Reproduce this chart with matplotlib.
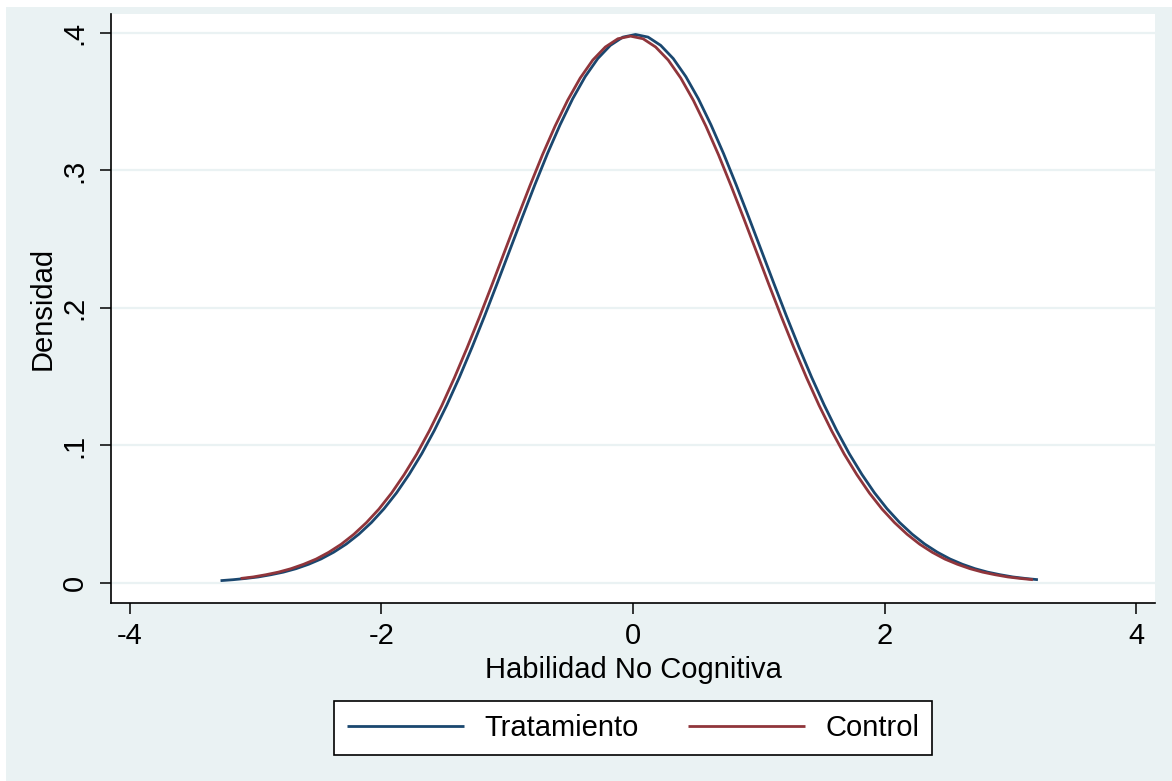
import matplotlib
matplotlib.use("Agg")
import matplotlib.pyplot as plt
from matplotlib.patches import Rectangle

plt.rcParams['font.family'] = ['Liberation Sans', 'DejaVu Sans']

# Kernel density estimates of the non-cognitive ability index
x_tratamiento = [-3.28, -3.18, -3.08, -2.98, -2.88, -2.78, -2.68, -2.58, -2.48, -2.38,
                 -2.28, -2.18, -2.08, -1.98, -1.88, -1.78, -1.68, -1.58, -1.48, -1.38,
                 -1.28, -1.18, -1.08, -0.98, -0.88, -0.78, -0.68, -0.58, -0.48, -0.38,
                 -0.28, -0.18, -0.08, 0.02, 0.12, 0.22, 0.32, 0.42, 0.52, 0.62,
                 0.72, 0.82, 0.92, 1.02, 1.12, 1.22, 1.32, 1.42, 1.52, 1.62,
                 1.72, 1.82, 1.92, 2.02, 2.12, 2.22, 2.32, 2.42, 2.52, 2.62,
                 2.72, 2.82, 2.92, 3.02, 3.12, 3.22]
y_tratamiento = [0.0017, 0.0024, 0.0033, 0.0044, 0.0060, 0.0079, 0.0104, 0.0136, 0.0175, 0.0224,
                 0.0283, 0.0355, 0.0440, 0.0540, 0.0656, 0.0790, 0.0940, 0.1109, 0.1295, 0.1497,
                 0.1714, 0.1942, 0.2179, 0.2420, 0.2661, 0.2897, 0.3123, 0.3332, 0.3521, 0.3683,
                 0.3814, 0.3910, 0.3970, 0.3989, 0.3970, 0.3910, 0.3814, 0.3683, 0.3521, 0.3332,
                 0.3123, 0.2897, 0.2661, 0.2420, 0.2179, 0.1942, 0.1714, 0.1497, 0.1295, 0.1109,
                 0.0940, 0.0790, 0.0656, 0.0540, 0.0440, 0.0355, 0.0283, 0.0224, 0.0175, 0.0136,
                 0.0104, 0.0079, 0.0060, 0.0044, 0.0033, 0.0024]

x_control = [-3.12, -3.02, -2.92, -2.82, -2.72, -2.62, -2.52, -2.42, -2.32, -2.22,
             -2.12, -2.02, -1.92, -1.82, -1.72, -1.62, -1.52, -1.42, -1.32, -1.22,
             -1.12, -1.02, -0.92, -0.82, -0.72, -0.62, -0.52, -0.42, -0.32, -0.22,
             -0.12, -0.02, 0.08, 0.18, 0.28, 0.38, 0.48, 0.58, 0.68, 0.78,
             0.88, 0.98, 1.08, 1.18, 1.28, 1.38, 1.48, 1.58, 1.68, 1.78,
             1.88, 1.98, 2.08, 2.18, 2.28, 2.38, 2.48, 2.58, 2.68, 2.78,
             2.88, 2.98, 3.08, 3.18]
y_control = [0.0033, 0.0044, 0.0060, 0.0079, 0.0104, 0.0136, 0.0174, 0.0223, 0.0282, 0.0354,
             0.0439, 0.0538, 0.0654, 0.0788, 0.0937, 0.1106, 0.1291, 0.1493, 0.1709, 0.1936,
             0.2172, 0.2413, 0.2653, 0.2888, 0.3114, 0.3322, 0.3510, 0.3672, 0.3803, 0.3898,
             0.3958, 0.3977, 0.3958, 0.3898, 0.3803, 0.3672, 0.3510, 0.3322, 0.3114, 0.2888,
             0.2653, 0.2413, 0.2172, 0.1936, 0.1709, 0.1493, 0.1291, 0.1106, 0.0937, 0.0788,
             0.0654, 0.0538, 0.0439, 0.0354, 0.0282, 0.0223, 0.0174, 0.0136, 0.0104, 0.0079,
             0.0060, 0.0044, 0.0033, 0.0024]

x_ticks = [-4, -2, 0, 2, 4]
y_ticks = [0, 0.1, 0.2, 0.3, 0.4]
y_ticklabels = ["0", ".1", ".2", ".3", ".4"]

BG = "#eaf2f3"
NAVY = "#1a476f"
MAROON = "#90353b"
FS = 21

W, H = 1172, 781
fig = plt.figure(figsize=(W / 100, H / 100), dpi=100, facecolor="white")
fig.patches.append(Rectangle((6 / W, 0), 1 - 6 / W, 1 - 7 / H,
                             transform=fig.transFigure, facecolor=BG,
                             edgecolor="none", zorder=-10))

ax = fig.add_axes([111 / W, 1 - 603 / H, (1155 - 111) / W, (603 - 14) / H])
ax.set_zorder(1)
ax.set_facecolor("white")

ax.plot(x_tratamiento, y_tratamiento, color=NAVY, lw=2.0, label="Tratamiento",
        solid_capstyle="butt", solid_joinstyle="round", zorder=3)
ax.plot(x_control, y_control, color=MAROON, lw=2.0, label="Control",
        solid_capstyle="butt", solid_joinstyle="round", zorder=4)

ax.set_xlim(-4.151, 4.151)
ax.set_ylim(-0.01455, 0.4138)
ax.set_xticks(x_ticks)
ax.set_xticklabels([str(t) for t in x_ticks])
ax.set_yticks(y_ticks)
ax.set_yticklabels(y_ticklabels, rotation=90, va="center")

ax.grid(axis="y", color=BG, lw=1.6, zorder=1)
ax.set_axisbelow(True)

for side in ("top", "right"):
    ax.spines[side].set_visible(False)
for side in ("left", "bottom"):
    ax.spines[side].set_linewidth(1.2)
    ax.spines[side].set_color("black")

ax.tick_params(axis="both", length=8, width=1.1, labelsize=FS, pad=6)
ax.tick_params(axis="y", pad=8)

ax.set_xlabel("Habilidad No Cognitiva", fontsize=FS, labelpad=4)
ax.set_ylabel("Densidad", fontsize=FS, labelpad=3)

leg = fig.legend(loc="center", bbox_to_anchor=(633 / W, 1 - 728 / H), ncol=2,
                 fontsize=FS, frameon=True, fancybox=False, edgecolor="black",
                 framealpha=1, handlelength=4.0, handletextpad=0.7,
                 columnspacing=1.7, borderpad=0.45)
leg.get_frame().set_linewidth(1.2)

fig.savefig("out.png", dpi=100, facecolor=fig.get_facecolor())
